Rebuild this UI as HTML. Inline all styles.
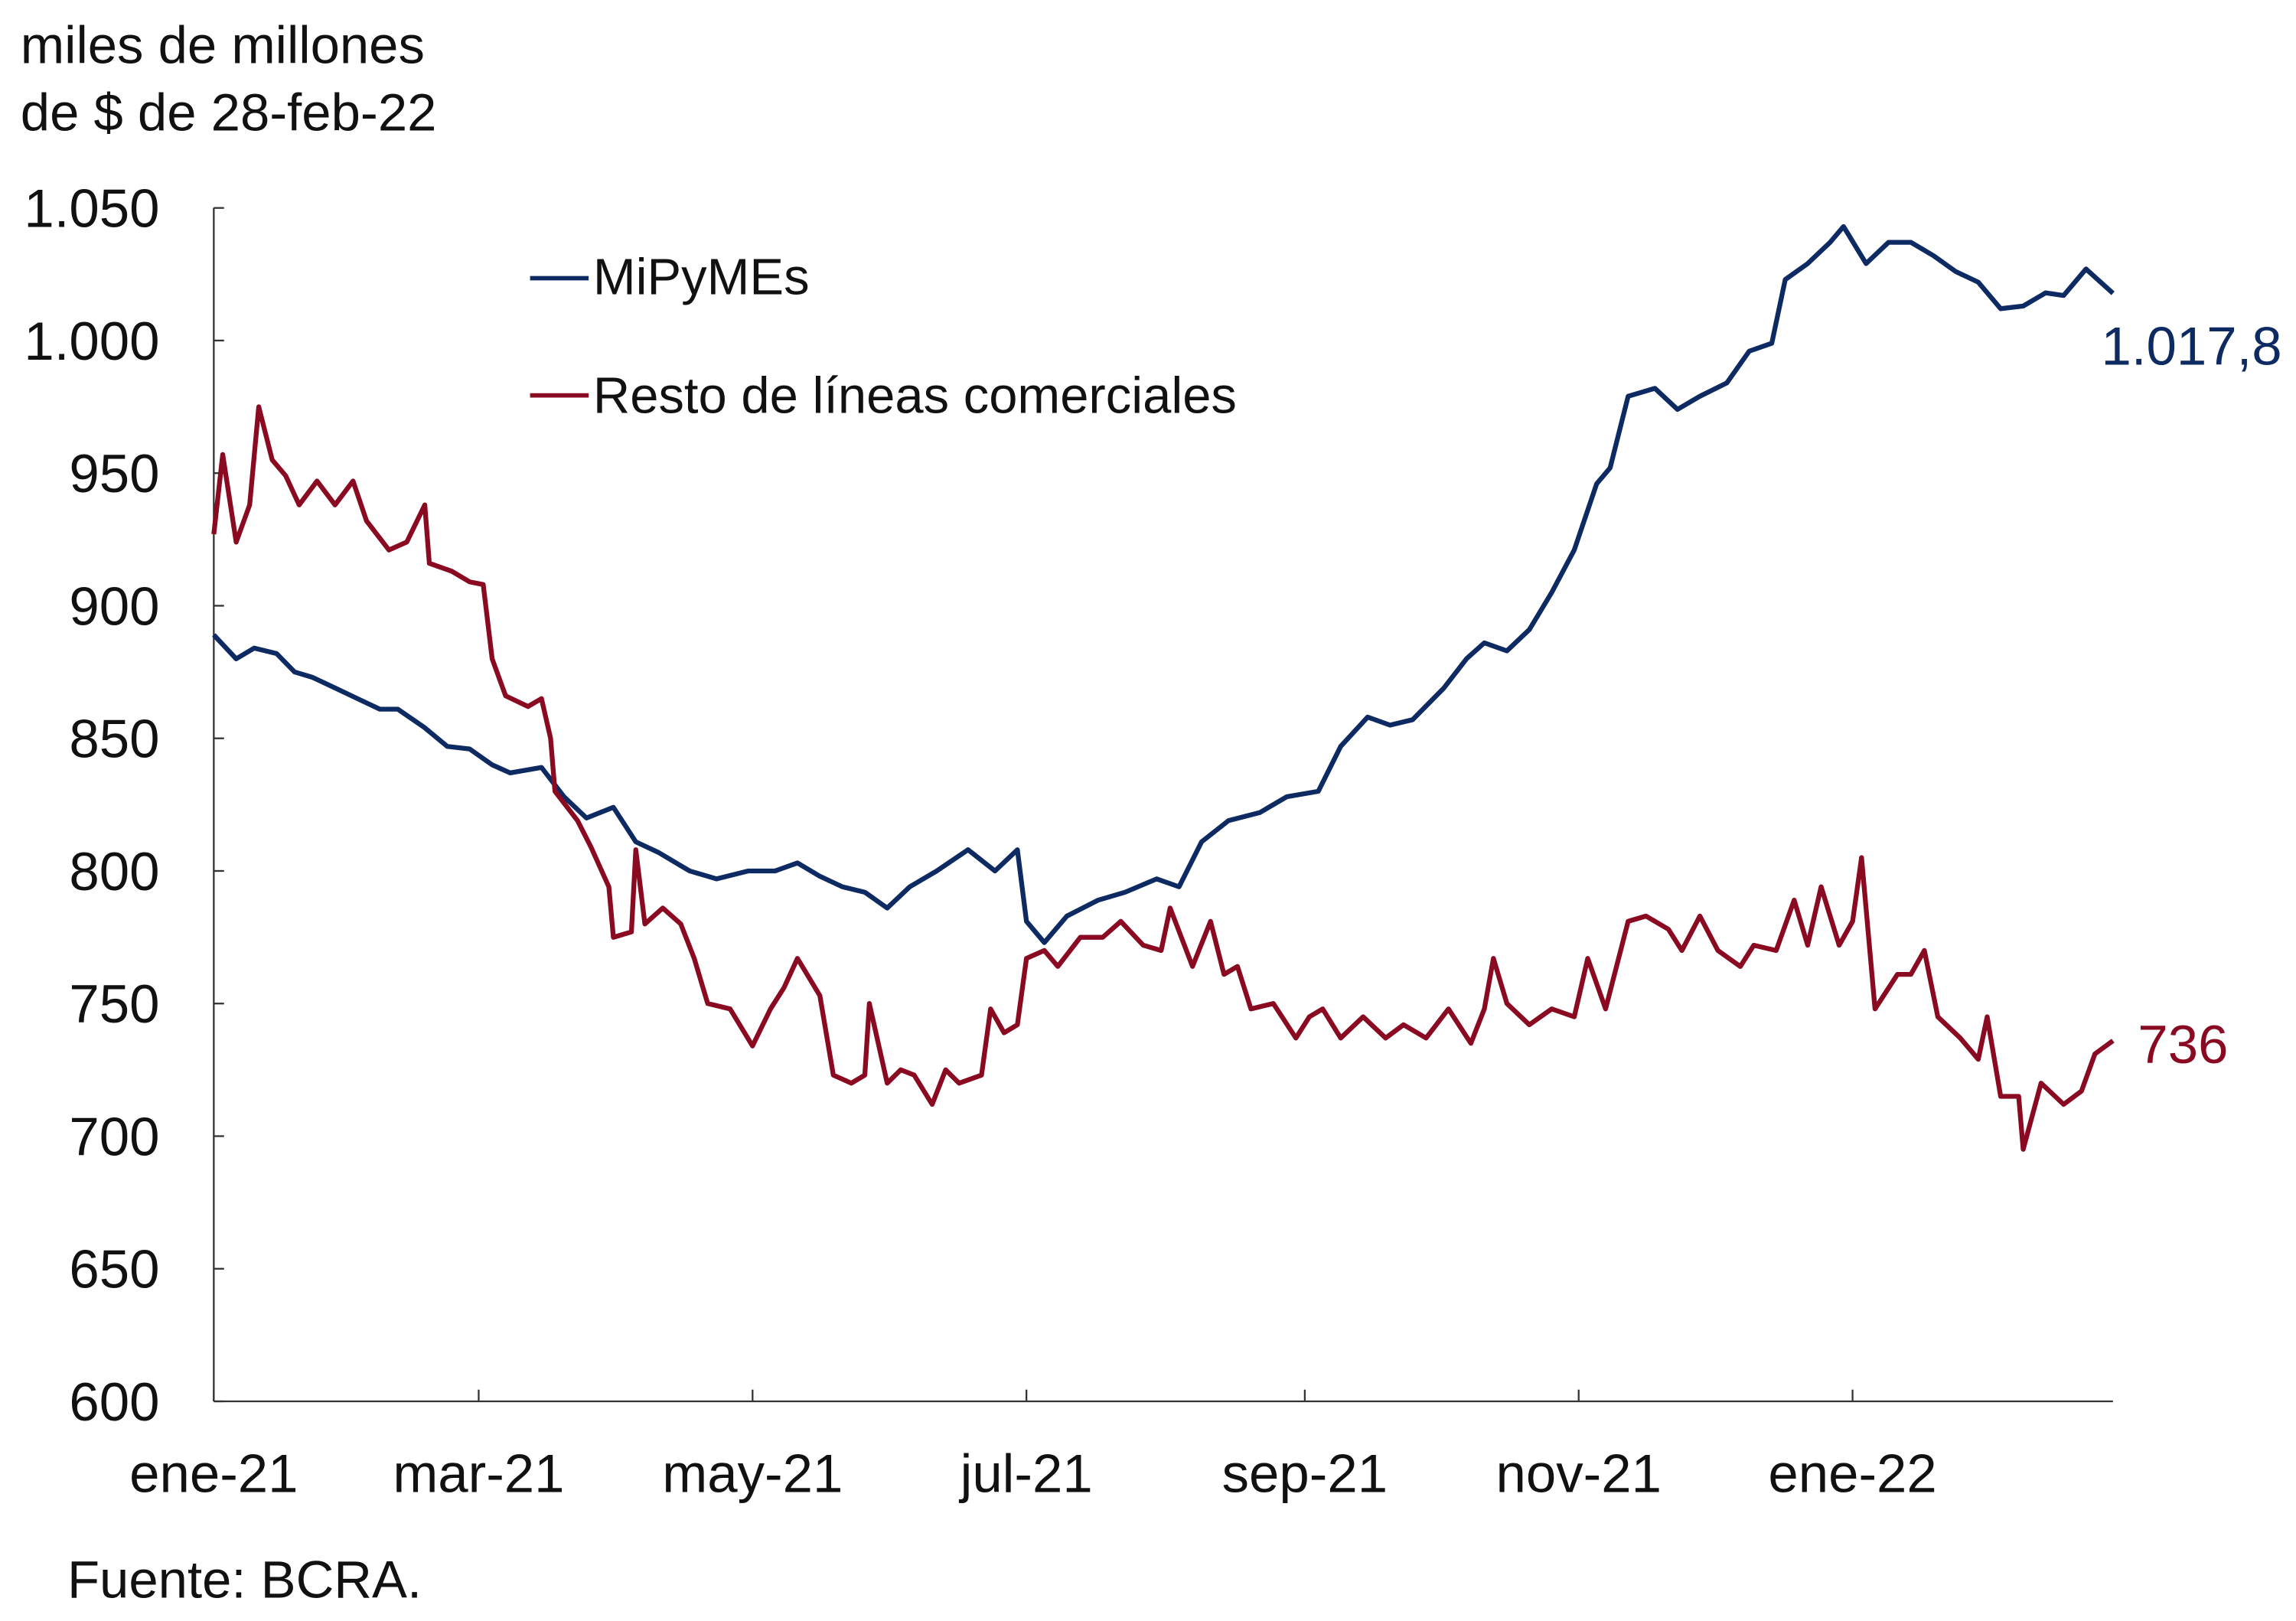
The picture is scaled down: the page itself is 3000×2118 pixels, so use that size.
<!DOCTYPE html>
<html><head><meta charset="utf-8"><style>
html,body{margin:0;padding:0;background:#fff;}
svg{display:block;font-family:"Liberation Sans",Arial,sans-serif;}
</style></head><body>
<svg id="chart" width="3000" height="2118" viewBox="0 0 1568 1107" preserveAspectRatio="none" xmlns="http://www.w3.org/2000/svg">
<text x="14" y="43" font-size="36" fill="#111">miles de millones</text>
<text x="14" y="89" font-size="36" fill="#111">de $ de 28-feb-22</text>
<g id="axes"></g>
<g id="series"></g>
<g>
<line x1="362" y1="190" x2="402" y2="190" stroke="#0e2a62" stroke-width="3"/>
<text x="405" y="201" font-size="35" fill="#111">MiPyMEs</text>
<line x1="362" y1="270" x2="402" y2="270" stroke="#8a0a22" stroke-width="3"/>
<text x="405" y="282" font-size="35" fill="#111">Resto de líneas comerciales</text>
</g>
<text x="1435" y="249" font-size="37" fill="#0e2a62">1.017,8</text>
<text x="1460" y="726" font-size="37" fill="#8a0a22">736</text>
<text x="46" y="1091" font-size="36" fill="#111">Fuente: BCRA.</text>
</svg>
<script>
const yTicks=[600,650,700,750,800,850,900,950,1000,1050];
const yTickLabels=["600","650","700","750","800","850","900","950","1.000","1.050"];
const xTickDays=[0,59,120,181,243,304,365];
const xTickLabels=["ene-21","mar-21","may-21","jul-21","sep-21","nov-21","ene-22"];
const mipymesDays=[0,5,9,14,18,22,27,32,37,41,47,52,57,62,66,73,78,83,89,94,99,106,112,119,125,130,135,140,145,150,155,161,168,174,179,181,185,190,197,203,210,215,220,226,233,239,246,251,257,262,267,274,279,283,288,293,298,303,308,311,315,321,326,331,337,342,347,350,355,360,363,368,373,378,383,388,393,398,403,408,412,417,423];
const mipymesValues=[889,880,884,882,875,873,869,865,861,861,854,847,846,840,837,839,828,820,824,811,807,800,797,800,800,803,798,794,792,786,794,800,808,800,808,781,773,783,789,792,797,794,811,819,822,828,830,847,858,855,857,869,880,886,883,891,905,921,946,952,979,982,974,979,984,996,999,1023,1029,1037,1043,1029,1037,1037,1032,1026,1022,1012,1013,1018,1017,1027,1017.8];
const restoDays=[0,2,5,8,10,13,16,19,23,27,31,34,39,43,47,48,53,57,60,62,65,70,73,75,76,81,84,88,89,93,94,96,100,104,107,110,115,120,124,127,130,135,138,142,145,146,150,153,156,160,163,166,171,173,176,179,181,185,188,193,198,202,207,211,213,218,222,225,228,231,236,241,244,247,251,256,261,265,270,275,280,283,285,288,293,298,303,306,310,315,319,324,327,331,335,340,343,348,352,355,358,362,365,367,370,375,378,381,384,389,393,395,398,402,403,407,412,416,419,423];
const restoValues=[927,957,924,938,975,955,949,938,947,938,947,932,921,924,938,916,913,909,908,880,866,862,865,850,830,819,809,794,775,777,808,780,786,780,767,750,748,734,748,756,767,753,723,720,723,750,720,725,723,712,725,720,723,748,739,742,767,770,764,775,775,781,772,770,786,764,781,761,764,748,750,737,745,748,737,745,737,742,737,748,735,748,767,750,742,748,745,767,748,781,783,778,770,783,770,764,772,770,789,772,794,772,781,805,748,761,761,770,745,737,729,745,715,715,695,720,712,717,731,736];
const X0=146,X1=1443,D1=423,Y0=957,Y1=142;
function xs(d){return X0+(X1-X0)*d/D1;}
function ys(v){return Y0-(Y0-Y1)*(v-600)/450;}
const NS="http://www.w3.org/2000/svg";
const axes=document.getElementById('axes'),ser=document.getElementById('series');
function mk(tag,attrs,parent){const e=document.createElementNS(NS,tag);for(const k in attrs)e.setAttribute(k,attrs[k]);parent.appendChild(e);return e;}
let yl=mk('line',{x1:X0,y1:Y1,x2:X0,y2:Y0,stroke:'#333','stroke-width':1.2},axes);


let xl=mk('line',{x1:X0,y1:Y0,x2:X1,y2:Y0,stroke:'#333','stroke-width':1.2},axes);


yTicks.forEach((v,i)=>{
 mk('line',{x1:X0,y1:ys(v),x2:X0+7,y2:ys(v),stroke:'#333','stroke-width':1.2},axes);
 const t=mk('text',{x:109,y:ys(v)+13,'font-size':37,'text-anchor':'end',fill:'#111'},axes);
 t.textContent=yTickLabels[i];
 
 
});
xTickDays.forEach((d,i)=>{
 mk('line',{x1:xs(d),y1:Y0,x2:xs(d),y2:Y0-8,stroke:'#333','stroke-width':1.2},axes);
 const t=mk('text',{x:xs(d),y:1019,'font-size':37,'text-anchor':'middle',fill:'#111'},axes);
 t.textContent=xTickLabels[i];
 
 
});
function line(days,vals,color,name){
 const p=mk('polyline',{points:days.map((d,i)=>xs(d).toFixed(1)+','+ys(vals[i]).toFixed(1)).join(' '),fill:'none',stroke:color,'stroke-width':3.3,'stroke-linejoin':'round'},ser);
 
 
}
line(mipymesDays,mipymesValues,'#0e2a62','series-mipymes');
line(restoDays,restoValues,'#8a0a22','series-resto');
</script>
</body></html>
